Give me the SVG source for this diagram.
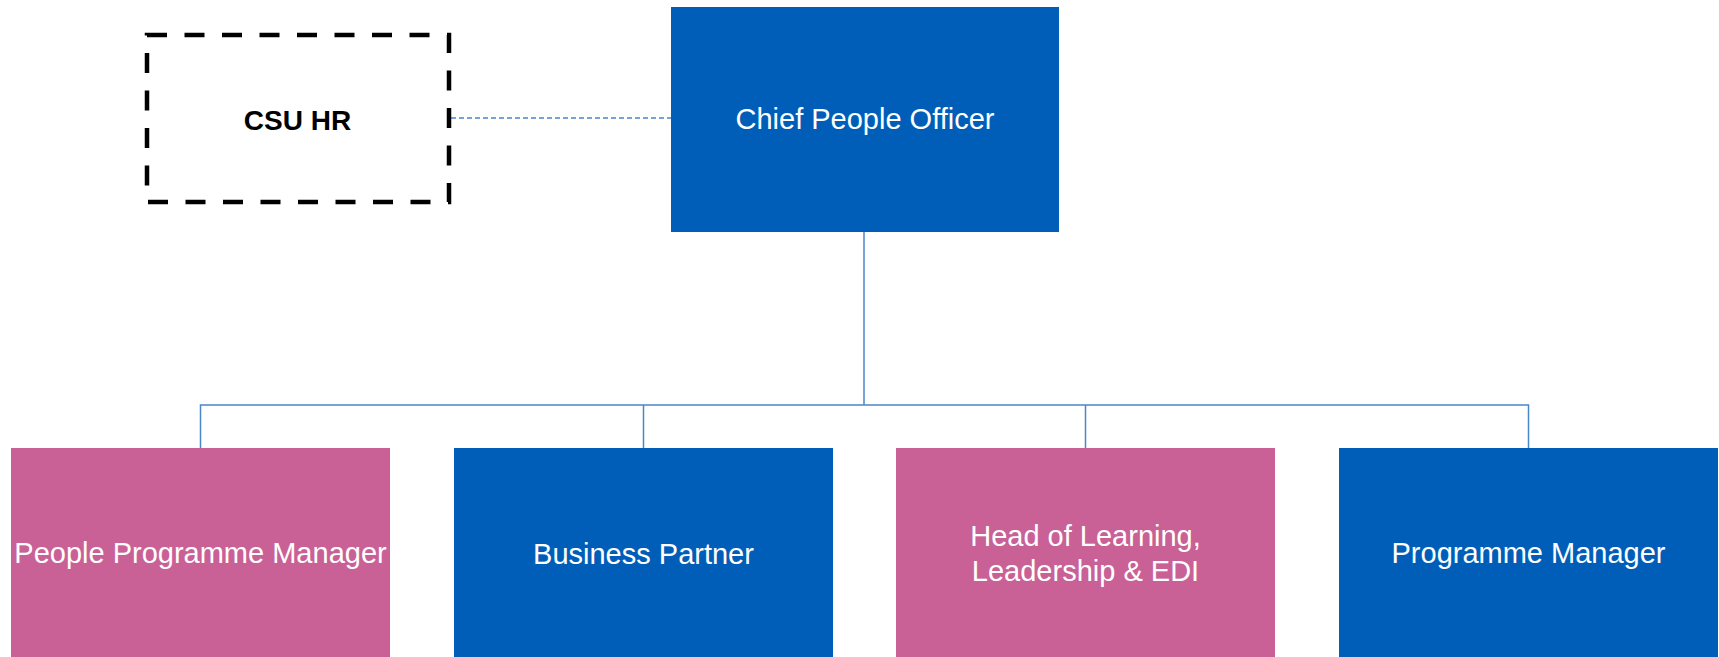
<svg xmlns="http://www.w3.org/2000/svg" width="1719" height="657" viewBox="0 0 1719 657">
<style>
.blue{fill:#005EB8}
.pink{fill:#C96197}
.lbl{font-family:"Liberation Sans",Arial,sans-serif;font-size:29px;fill:#FFFFFF;text-anchor:middle}
.conn{stroke:#4A86C8;stroke-width:1.5;fill:none}
</style>
<rect width="1719" height="657" fill="#FFFFFF"/>
<g id="connectors">
<line class="conn" x1="451" y1="118" x2="671" y2="118" stroke="#3D7FD0" stroke-dasharray="5 3"/>
<polyline class="conn" points="864,232 864,405"/>
<polyline class="conn" points="200.5,448 200.5,405 1528.5,405 1528.5,448"/>
<line class="conn" x1="643.5" y1="405" x2="643.5" y2="448"/>
<line class="conn" x1="1085.5" y1="405" x2="1085.5" y2="448"/>
</g>
<g id="csu-hr">
<rect x="147" y="35" width="302" height="167" fill="none" stroke="#000000" stroke-width="4.5" stroke-dasharray="20 17.5"/>
<text x="297.5" y="130" font-family="'Liberation Sans',Arial,sans-serif" font-size="28" font-weight="bold" text-anchor="middle" fill="#000000">CSU HR</text>
</g>
<g id="chief-people-officer">
<rect class="blue" x="671" y="7" width="388" height="225"/>
<text class="lbl" x="865" y="129">Chief People Officer</text>
</g>
<g id="people-programme-manager">
<rect class="pink" x="11" y="448" width="379" height="209"/>
<text class="lbl" x="200.5" y="563">People Programme Manager</text>
</g>
<g id="business-partner">
<rect class="blue" x="454" y="448" width="379" height="209"/>
<text class="lbl" x="643.5" y="564">Business Partner</text>
</g>
<g id="head-of-learning">
<rect class="pink" x="896" y="448" width="379" height="209"/>
<text class="lbl" x="1085.5" y="546">Head of Learning,</text>
<text class="lbl" x="1085.5" y="581">Leadership &amp; EDI</text>
</g>
<g id="programme-manager">
<rect class="blue" x="1339" y="448" width="379" height="209"/>
<text class="lbl" x="1528.5" y="563">Programme Manager</text>
</g>
</svg>
